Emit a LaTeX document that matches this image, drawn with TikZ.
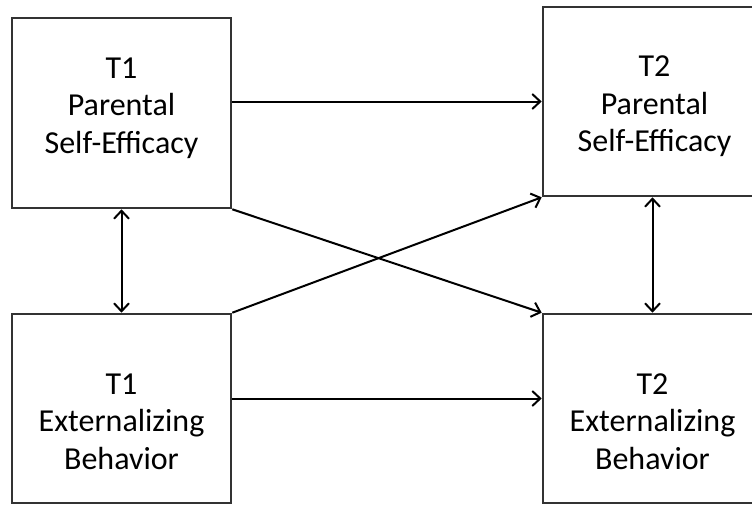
\documentclass[tikz,border=0pt]{standalone}
\usepackage{fontspec}
\setmainfont{Carlito}
\usepackage{tikz}
\usetikzlibrary{positioning, arrows.meta}

\begin{document}
\begin{tikzpicture}[x=1pt, y=-1pt,
			box/.style={draw=black!80, line width=2.6pt, minimum width=219pt, minimum height=189pt, inner sep=0pt},
			lbl/.style={align=center, font=\fontsize{32}{37.5}\selectfont},
			arr/.style={line width=2pt, -{Straight Barb[length=8pt, width=15pt, line width=2pt]}},
			biarr/.style={arr, {Straight Barb[length=8pt, width=15pt, line width=2pt]}-{Straight Barb[length=8pt, width=15pt, line width=2pt]}}]
			\useasboundingbox (0,0) rectangle (752,506);
			% boxes
			\node[box, minimum height=190pt] (pse1) at (121.5,113) {};
			\node[box] (pse2) at (652.5,101.5) {};
			\node[box] (eb1) at (121.5,408.5) {};
			\node[box] (eb2) at (652.5,408.5) {};
			% texts
			\node[lbl] (pse1txt) at ([yshift=5pt]pse1.center) {T1\\Parental\\Self-Efficacy};
			\node[lbl] (pse2txt) at ([xshift=2pt, yshift=-5pt]pse2.center) {T2\\Parental\\Self-Efficacy};
			\node[lbl] (eb1txt) at ([yshift=-13pt]eb1.center) {T1\\Externalizing\\Behavior};
			\node[lbl] (eb2txt) at ([yshift=-13pt]eb2.center) {T2\\Externalizing\\Behavior};
			% paths
			\draw[arr] (pse1.east |- pse2.west) -- (pse2.west);
			\draw[arr] ([yshift=10pt]eb1.east) -- ([yshift=10pt]eb2.west);
			\draw[arr] (pse1.south east) -- (eb2.north west);
			\draw[arr] (eb1.north east) -- (pse2.south west);
			\draw[biarr] (pse1.south) -- (eb1.north);
			\draw[biarr] (pse2.south) -- (eb2.north);
		\end{tikzpicture}
\end{document}
